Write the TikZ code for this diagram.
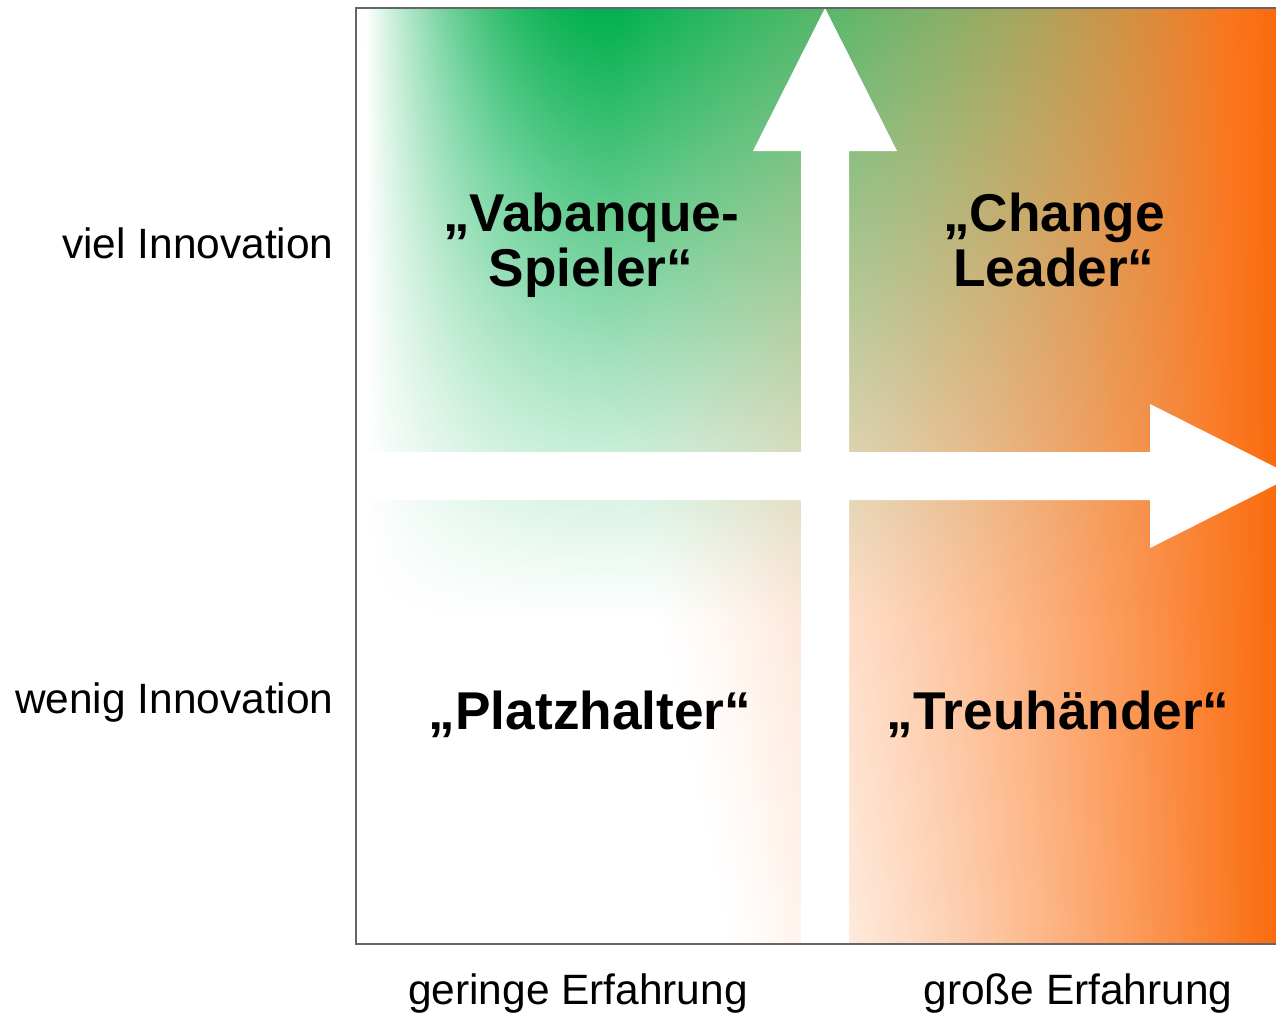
\documentclass[tikz,border=0pt]{standalone}
\usepackage{fontspec}
\setmainfont{Liberation Sans}
\usetikzlibrary{calc}

\pgfdeclarefunctionalshading{erfahrung}{\pgfpointorigin}{\pgfpoint{460bp}{468bp}}{}{
  exch 460 div exch 468 div 1 exch sub
  dup 0.66 div 1 exch sub dup 0 lt {pop 0} if 1.2 exp
  2 index dup 0.28 lt
  {0.28 exch sub 0.27 div dup mul 1 exch sub}
  {0.28 sub 0.67 div 1 exch sub} ifelse
  dup 0 lt {pop 0} if mul
  1 index sqrt 0.4 mul
  3 index 1 index sub exch 1 exch sub div
  dup 0 lt {pop 0} if dup 1 gt {pop 1} if 1.3 exp
  4 2 roll pop pop
  1 index 1 exch sub 1 index 0.02 mul 1 exch sub mul
  2 index 1 exch sub 2 index 0.58 mul 1 exch sub mul 3 index 0.69 mul add
  3 index 1 exch sub 3 index 0.95 mul 1 exch sub mul 4 index 0.31 mul add
  5 3 roll pop pop
}

\tikzset{
  quadlabel/.style={font=\bfseries\fontsize{26.7}{27.6}\selectfont, align=center, inner sep=0pt},
  axislabel/.style={font=\fontsize{21.3}{25}\selectfont, inner sep=0pt},
  pfeil/.style={fill=white, draw=none},
  rahmen/.style={draw=black!60, line width=0.75bp}
}

\begin{document}
\begin{tikzpicture}[x=0.5bp, y=-0.5bp]
  \useasboundingbox (0,0) rectangle (1276,1012);
  \coordinate (nw) at (356,8);
  \coordinate (sw) at (356,944);
  \coordinate (ne) at (1276,8);
  \coordinate (se) at (1276,944);

  \node[inner sep=0pt, outer sep=0pt, anchor=north west] (feld) at (nw) {\pgfuseshading{erfahrung}};

  % axes
  \fill[pfeil] (801,944) -- (801,151) -- (753,151) -- (825,8) -- (897,151) -- (849,151) -- (849,944) -- cycle;
  \fill[pfeil] (356,452) -- (1150,452) -- (1150,404) -- (1293,476) -- (1150,548) -- (1150,500) -- (356,500) -- cycle;

  \draw[rahmen] (ne) -- (nw) -- (sw) -- (se);

  \node[quadlabel] (vabanque) at (591,245) {„Vabanque-\\Spieler“};
  \node[quadlabel] (change) at (1054,240) {„Change\\Leader“};
  \node[quadlabel, anchor=base] (platz) at (590,729) {„Platzhalter“};
  \node[quadlabel, anchor=base] (treu) at (1058,729) {„Treuhänder“};

  \node[axislabel, anchor=base east] (viel) at (334,258) {viel Innovation};
  \node[axislabel, anchor=base east] (wenig) at (334,713) {wenig Innovation};
  \node[axislabel, anchor=base] (gering) at (578,1004) {geringe Erfahrung};
  \node[axislabel, anchor=base] (gross) at (1078,1004) {große Erfahrung};
\end{tikzpicture}
\end{document}
